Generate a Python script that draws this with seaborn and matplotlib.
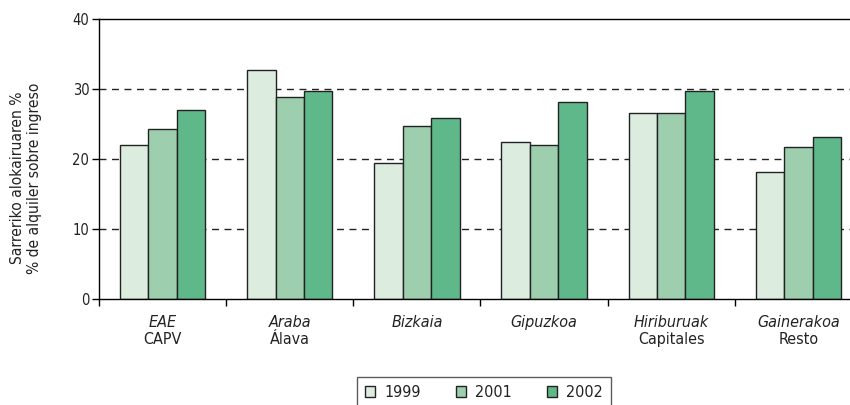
import pandas as pd
import numpy as np
import matplotlib
matplotlib.use("Agg")
import matplotlib.pyplot as plt
import seaborn as sns
from matplotlib.patches import Patch

# data
regions_eu = ["EAE", "Araba", "Bizkaia", "Gipuzkoa", "Hiriburuak", "Gainerakoa"]
regions_es = ["CAPV", "Álava", "", "", "Capitales", "Resto"]
years = ["1999", "2001", "2002"]
v1999 = [22.0, 32.7, 19.4, 22.4, 26.6, 18.2]
v2001 = [24.3, 28.9, 24.7, 22.0, 26.6, 21.7]
v2002 = [27.0, 29.7, 25.9, 28.1, 29.7, 23.2]
colors = ["#dcede0", "#9dcfae", "#5fb88a"]


def build_frame():
    rows = []
    for yr, vals in zip(years, [v1999, v2001, v2002]):
        for reg, v in zip(regions_eu, vals):
            rows.append({"region": reg, "year": yr, "value": v})
    return pd.DataFrame(rows)


def main():
    sns.set_style("white")
    plt.rcParams['font.family'] = ['DejaVu Sans']
    plt.rcParams['font.stretch'] = 'condensed'
    df = build_frame()

    fig = plt.figure(figsize=(8.5, 4.05), dpi=100)
    ax = fig.add_axes([99 / 850, 1 - 299 / 405, (862 - 99) / 850, (299 - 19) / 405])

    sns.barplot(df, x="region", y="value", hue="year", palette=colors,
                width=0.67, gap=0, edgecolor="#222222", linewidth=1.0,
                saturation=1, ax=ax, legend=False)

    ax.set_ylim(0, 40)
    ax.set_xlim(-0.5, len(regions_eu) - 0.5)
    ax.set_yticks([0, 10, 20, 30, 40])
    ax.tick_params(axis="y", direction="out", length=5, width=1, color="black",
                   labelsize=10.5, left=True, pad=2, labelcolor="#222222")
    for y in [10, 20, 30]:
        ax.axhline(y, color="#222222", linestyle=(0, (5, 4)), linewidth=1, zorder=0)

    # group separator ticks
    ax.set_xticks(np.arange(len(regions_eu)))
    ax.set_xticklabels([""] * len(regions_eu))
    ax.tick_params(axis="x", which="major", length=0)
    ax.set_xticks(np.arange(len(regions_eu) + 1) - 0.5, minor=True)
    ax.tick_params(axis="x", which="minor", direction="out", length=5, width=1,
                   color="black", bottom=True)
    ax.set_xlabel("")
    ax.set_ylabel("")

    for s in ["left", "bottom", "top", "right"]:
        ax.spines[s].set_visible(True)
        ax.spines[s].set_color("black")
        ax.spines[s].set_linewidth(1)

    trans = ax.get_xaxis_transform()
    for i, (eu, es) in enumerate(zip(regions_eu, regions_es)):
        ax.text(i, -0.084, eu, transform=trans, ha="center", va="center",
                fontsize=11.5, style="italic", color="#222222")
        if es:
            ax.text(i, -0.146, es, transform=trans, ha="center", va="center",
                    fontsize=11.5, color="#222222")

    fig.text(26 / 850, 1 - 178 / 405, "Sarreriko alokairuaren %\n% de alquiler sobre ingreso",
             rotation=90, ha="center", va="center", multialignment="center",
             fontsize=11.2, linespacing=1.1, color="#222222")

    handles = [Patch(facecolor=c, edgecolor="#222222", linewidth=1) for c in colors]
    leg = fig.legend(handles, years, loc="upper center",
                     bbox_to_anchor=(484 / 850, 1 - 377 / 405), ncol=3,
                     frameon=True, fancybox=False, fontsize=11.5,
                     handlelength=0.65, handleheight=0.65, handletextpad=0.55,
                     columnspacing=2.2, borderpad=0.5, borderaxespad=0)
    leg.get_frame().set_edgecolor("#333333")
    leg.get_frame().set_linewidth(1)
    for t in leg.get_texts():
        t.set_color("#222222")

    fig.savefig("out.png", dpi=100)
    plt.close(fig)


if __name__ == "__main__":
    main()
